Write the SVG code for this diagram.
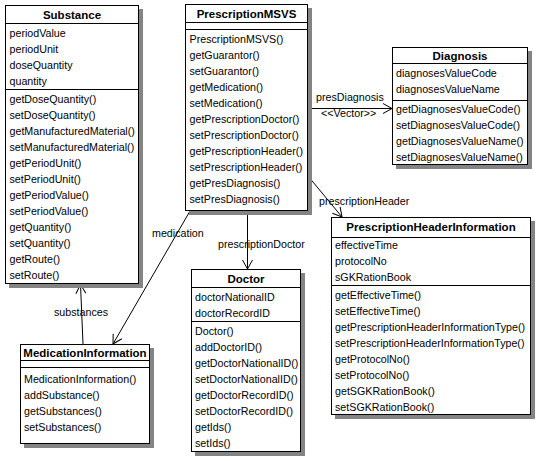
<svg xmlns="http://www.w3.org/2000/svg" width="539" height="461" viewBox="0 0 539 461">
<defs>
<style>
.bg{fill:#fff}
.box{fill:#fff;stroke:#000;stroke-width:1}
.sh{fill:#848484}
.ln{stroke:#000;stroke-width:1;fill:none}
text{font-family:"Liberation Sans",Arial,sans-serif;font-size:10.7px;fill:#000}
.ti{font-weight:bold;font-size:11.5px;text-anchor:middle}
</style>
<marker id="open" markerUnits="userSpaceOnUse" markerWidth="12" markerHeight="12" refX="9" refY="5" orient="auto" overflow="visible">
<path d="M0,0 L9,5 L0,10" fill="none" stroke="#000" stroke-width="1"/>
</marker>
</defs>
<rect class="bg" width="539" height="461"/>

<g id="connectors">
<line class="ln" x1="83" y1="344" x2="80.5" y2="284.5" marker-end="url(#open)"/>
<text x="54" y="316">substances</text>
<line class="ln" x1="190" y1="211" x2="113" y2="344" marker-end="url(#open)"/>
<text x="152" y="237">medication</text>
<line class="ln" x1="247.5" y1="211" x2="247.5" y2="269" marker-end="url(#open)"/>
<text x="218" y="248">prescriptionDoctor</text>
<line class="ln" x1="308" y1="176" x2="342" y2="217" marker-end="url(#open)"/>
<text x="319" y="205">prescriptionHeader</text>
<line class="ln" x1="308" y1="108.5" x2="392" y2="108.5" marker-end="url(#open)"/>
<text x="316" y="100.5">presDiagnosis</text>
<text x="321" y="117">&lt;&lt;Vector&gt;&gt;</text>
</g>

<g id="Substance">
<rect class="sh" x="9" y="9" width="134" height="279"/>
<rect class="box" x="5.5" y="5.5" width="133" height="278"/>
<line class="ln" x1="5.5" y1="23.5" x2="138.5" y2="23.5"/>
<line class="ln" x1="5.5" y1="89.5" x2="138.5" y2="89.5"/>
<text class="ti" x="72" y="18.5">Substance</text>
<text x="9.5" y="36.5">periodValue</text>
<text x="9.5" y="52.5">periodUnit</text>
<text x="9.5" y="68.5">doseQuantity</text>
<text x="9.5" y="84.5">quantity</text>
<text x="9.5" y="102.5">getDoseQuantity()</text>
<text x="9.5" y="118.5">setDoseQuantity()</text>
<text x="9.5" y="134.5">getManufacturedMaterial()</text>
<text x="9.5" y="150.5">setManufacturedMaterial()</text>
<text x="9.5" y="166.5">getPeriodUnit()</text>
<text x="9.5" y="182.5">setPeriodUnit()</text>
<text x="9.5" y="198.5">getPeriodValue()</text>
<text x="9.5" y="214.5">setPeriodValue()</text>
<text x="9.5" y="230.5">getQuantity()</text>
<text x="9.5" y="246.5">setQuantity()</text>
<text x="9.5" y="262.5">getRoute()</text>
<text x="9.5" y="278.5">setRoute()</text>
</g>

<g id="PrescriptionMSVS">
<rect class="sh" x="189" y="8" width="123" height="207"/>
<rect class="box" x="185.5" y="4.5" width="122" height="206"/>
<line class="ln" x1="185.5" y1="22.5" x2="307.5" y2="22.5"/>
<line class="ln" x1="185.5" y1="29.5" x2="307.5" y2="29.5"/>
<text class="ti" x="246.5" y="17.5">PrescriptionMSVS</text>
<text x="189.5" y="42.5">PrescriptionMSVS()</text>
<text x="189.5" y="58.5">getGuarantor()</text>
<text x="189.5" y="74.5">setGuarantor()</text>
<text x="189.5" y="90.5">getMedication()</text>
<text x="189.5" y="106.5">setMedication()</text>
<text x="189.5" y="122.5">getPrescriptionDoctor()</text>
<text x="189.5" y="138.5">setPrescriptionDoctor()</text>
<text x="189.5" y="154.5">getPrescriptionHeader()</text>
<text x="189.5" y="170.5">setPrescriptionHeader()</text>
<text x="189.5" y="186.5">getPresDiagnosis()</text>
<text x="189.5" y="202.5">setPresDiagnosis()</text>
</g>

<g id="Diagnosis">
<rect class="sh" x="396" y="51" width="136" height="118"/>
<rect class="box" x="392.5" y="47.5" width="135" height="117"/>
<line class="ln" x1="392.5" y1="63.5" x2="527.5" y2="63.5"/>
<line class="ln" x1="392.5" y1="100.5" x2="527.5" y2="100.5"/>
<text class="ti" x="460" y="59.5">Diagnosis</text>
<text x="396" y="77">diagnosesValueCode</text>
<text x="396" y="93">diagnosesValueName</text>
<text x="396" y="112.5">getDiagnosesValueCode()</text>
<text x="396" y="128.5">setDiagnosesValueCode()</text>
<text x="396" y="144.5">getDiagnosesValueName()</text>
<text x="396" y="160.5">setDiagnosesValueName()</text>
</g>

<g id="Doctor">
<rect class="sh" x="195" y="273" width="110" height="183"/>
<rect class="box" x="191.5" y="269.5" width="109" height="182"/>
<line class="ln" x1="191.5" y1="287.5" x2="300.5" y2="287.5"/>
<line class="ln" x1="191.5" y1="321.5" x2="300.5" y2="321.5"/>
<text class="ti" x="246" y="282.5">Doctor</text>
<text x="195" y="301">doctorNationalID</text>
<text x="195" y="317">doctorRecordID</text>
<text x="195" y="335">Doctor()</text>
<text x="195" y="351">addDoctorID()</text>
<text x="195" y="367">getDoctorNationalID()</text>
<text x="195" y="383">setDoctorNationalID()</text>
<text x="195" y="399">getDoctorRecordID()</text>
<text x="195" y="415">setDoctorRecordID()</text>
<text x="195" y="431">getIds()</text>
<text x="195" y="447">setIds()</text>
</g>

<g id="PrescriptionHeaderInformation">
<rect class="sh" x="335" y="221" width="200" height="198"/>
<rect class="box" x="331.5" y="217.5" width="199" height="197"/>
<line class="ln" x1="331.5" y1="237.5" x2="530.5" y2="237.5"/>
<line class="ln" x1="331.5" y1="285.5" x2="530.5" y2="285.5"/>
<text class="ti" x="431" y="231">PrescriptionHeaderInformation</text>
<text x="335" y="248.5">effectiveTime</text>
<text x="335" y="264.5">protocolNo</text>
<text x="335" y="280.5">sGKRationBook</text>
<text x="335" y="298.5">getEffectiveTime()</text>
<text x="335" y="314.5">setEffectiveTime()</text>
<text x="335" y="330.5">getPrescriptionHeaderInformationType()</text>
<text x="335" y="346.5">setPrescriptionHeaderInformationType()</text>
<text x="335" y="362.5">getProtocolNo()</text>
<text x="335" y="378.5">setProtocolNo()</text>
<text x="335" y="394.5">getSGKRationBook()</text>
<text x="335" y="410.5">setSGKRationBook()</text>
</g>

<g id="MedicationInformation">
<rect class="sh" x="24" y="348" width="130" height="100"/>
<rect class="box" x="20.5" y="344.5" width="129" height="99"/>
<line class="ln" x1="20.5" y1="360.5" x2="149.5" y2="360.5"/>
<line class="ln" x1="20.5" y1="367.5" x2="149.5" y2="367.5"/>
<text class="ti" x="85" y="356.5">MedicationInformation</text>
<text x="24" y="382.5">MedicationInformation()</text>
<text x="24" y="398.5">addSubstance()</text>
<text x="24" y="414.5">getSubstances()</text>
<text x="24" y="430.5">setSubstances()</text>
</g>
</svg>
